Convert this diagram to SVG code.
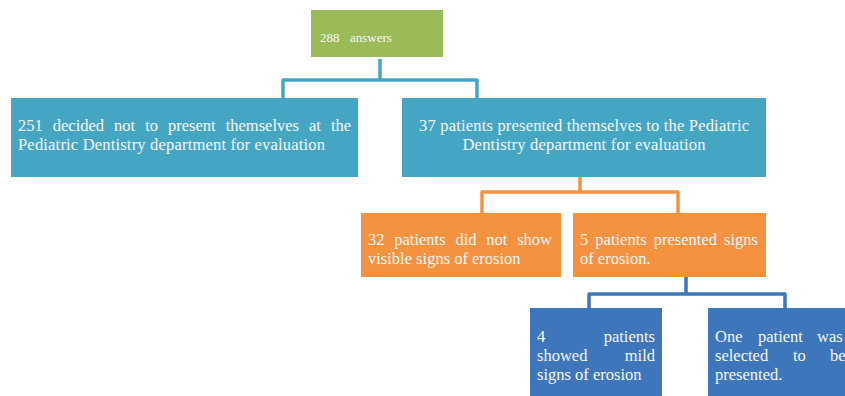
<svg xmlns="http://www.w3.org/2000/svg" width="845" height="396" viewBox="0 0 845 396">
<style>
.t{font-family:"Liberation Serif","Times New Roman",serif;font-size:16.5px;fill:#f6f8fa}
.s{font-family:"Liberation Serif","Times New Roman",serif;font-size:13px;fill:#f6f8fa}
.c{fill:none;stroke-width:3.5;stroke-linejoin:round}
</style>
<rect width="845" height="396" fill="#ffffff"/>
<g id="connectors">
<path class="c" stroke="#45a6c4" d="M380 59 V80 M283 98 V80 H477 V98"/>
<path class="c" stroke="#f5923f" d="M580 177 V192 M482 213 V192 H678 V213"/>
<path class="c" stroke="#3d76bb" d="M686 277 V294 M589 308 V294 H785 V308"/>
</g>
<g id="n288">
<rect x="311" y="10" width="132" height="47" fill="#9bbb59"/>
<text class="s" y="42"><tspan x="320">288</tspan><tspan x="350">answers</tspan></text>
</g>
<g id="n251">
<rect x="11" y="98" width="347" height="79" fill="#45a6c4"/>
<text class="t" y="131"><tspan x="18">251</tspan><tspan x="52.75">decided</tspan><tspan x="114.07">not</tspan><tspan x="145.16">to</tspan><tspan x="168">present</tspan><tspan x="225.65">themselves</tspan><tspan x="308.98">at</tspan><tspan x="330.89">the</tspan></text>
<text class="t" x="18" y="150" textLength="307" lengthAdjust="spacing">Pediatric Dentistry department for evaluation</text>
</g>
<g id="n37">
<rect x="402" y="98" width="364" height="79" fill="#45a6c4"/>
<text class="t" x="584" y="131" text-anchor="middle" textLength="330" lengthAdjust="spacing">37 patients presented themselves to the Pediatric</text>
<text class="t" x="584" y="150" text-anchor="middle" textLength="243" lengthAdjust="spacing">Dentistry department for evaluation</text>
</g>
<g id="n32">
<rect x="361" y="213" width="200" height="64" fill="#f5923f"/>
<text class="t" y="245"><tspan x="368">32</tspan><tspan x="394.29">patients</tspan><tspan x="455.41">did</tspan><tspan x="486.29">not</tspan><tspan x="517.17">show</tspan></text>
<text class="t" x="368" y="264">visible signs of erosion</text>
</g>
<g id="n5">
<rect x="573" y="213" width="193" height="64" fill="#f5923f"/>
<text class="t" y="245"><tspan x="580">5</tspan><tspan x="595.34">patients</tspan><tspan x="653.76">presented</tspan><tspan x="724.08">signs</tspan></text>
<text class="t" x="580" y="264">of erosion.</text>
</g>
<g id="n4">
<rect x="530" y="308" width="132" height="90" fill="#3d76bb"/>
<text class="t" y="342"><tspan x="537">4</tspan><tspan x="603.67">patients</tspan></text>
<text class="t" y="361"><tspan x="537">showed</tspan><tspan x="624.74">mild</tspan></text>
<text class="t" x="537" y="380">signs of erosion</text>
</g>
<g id="n1">
<rect x="708" y="308" width="150" height="90" fill="#3d76bb"/>
<text class="t" y="342"><tspan x="715">One</tspan><tspan x="758">patient</tspan><tspan x="817">was</tspan></text>
<text class="t" y="361"><tspan x="715">selected</tspan><tspan x="793">to</tspan><tspan x="830">be</tspan></text>
<text class="t" x="715" y="380">presented.</text>
</g>
</svg>
